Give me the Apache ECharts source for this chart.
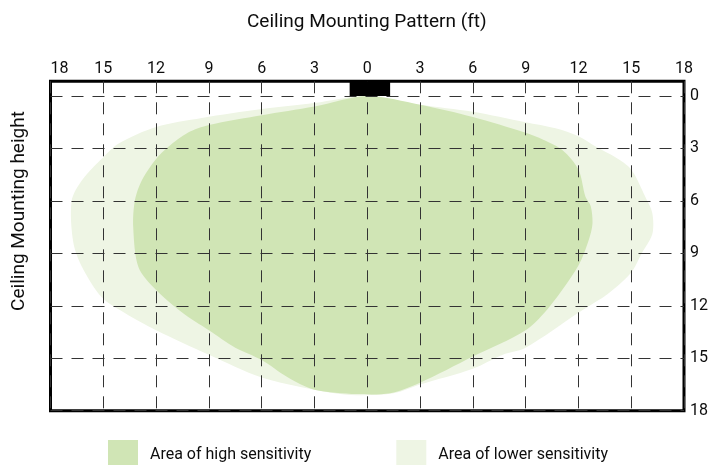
<!DOCTYPE html>
<html><head><meta charset="utf-8">
<script src="https://cdn.jsdelivr.net/npm/echarts@6/dist/echarts.min.js"></script>
<style>html,body{margin:0;padding:0;background:#fff}#c{width:713px;height:465px}</style>
</head><body><div id="c"></div>
<script>
// ---- data ----
const xTicks = [-18, -15, -12, -9, -6, -3, 0, 3, 6, 9, 12, 15, 18];
const yTicks = [0, 3, 6, 9, 12, 15, 18];
const seriesNames = ['Area of high sensitivity', 'Area of lower sensitivity'];
const titleText = 'Ceiling Mounting Pattern (ft)';
const yTitleText = 'Ceiling Mounting height';

// outline of the area of lower sensitivity (ft across, ft down)
const lowerX = [0, 3, 6, 9, 10.7, 12, 13, 14.1, 15, 15.8, 16.2, 16.2, 15.6, 15, 13.7, 12, 9, 7.7, 6, 3, 1.5, -0.9, -3, -6, -9, -12, -13.8, -15.1, -16.2, -16.7, -16.8, -16.2, -15, -14.1, -12, -9.4, -6, -3];
const lowerY = [0, 0.5, 0.9, 1.5, 1.85, 2.3, 2.9, 3.5, 4.2, 5.76, 6.7, 7.9, 9.0, 10.1, 11.3, 12.4, 14.4, 14.8, 15.6, 16.5, 17.0, 17.1, 16.8, 16.1, 14.8, 13.4, 12.4, 11.5, 9.8, 8.4, 6.0, 4.8, 3.5, 2.7, 1.77, 1.26, 0.75, 0.4];

// outline of the area of high sensitivity
const highX = [0, 3, 6, 9, 10, 11.1, 12, 12.4, 12.7, 12.8, 12.6, 12, 10.4, 9, 6, 3, 1.3, -0.6, -3, -4.5, -6, -7.5, -9, -10.5, -12, -13, -13.3, -13.2, -12.8, -12, -11.3, -10.2, -9, -6, -3];
const highY = [0, 0.5, 1.2, 2.1, 2.5, 3.1, 4.2, 5.76, 6.3, 7.3, 8.2, 9.7, 12.0, 13.4, 14.9, 16.4, 17.0, 17.05, 16.8, 16.1, 15.1, 14.4, 13.4, 12.4, 11.1, 9.8, 7.5, 5.95, 4.8, 3.6, 2.9, 2.1, 1.66, 1.1, 0.6];

// sensor block at the ceiling
const sensorX = [-1.0, 1.3];
const sensorY = [-0.84, 0];

const yMin = -0.84, yMax = 18, xMin = -18, xMax = 18;

const colHigh = '#d0e5b5';
const colLow = '#eef5e4';
const font = 'Roboto';
const txt = '#0d0d0d';

function polyRender(xs, ys, color) {
  return function (params, api) {
    if (params.dataIndex !== 0) return null;
    const pts = xs.map((x, i) => api.coord([x, ys[i]]));
    return { type: 'polygon', shape: { points: pts, smooth: 0.3 }, style: { fill: color } };
  };
}

const chart = echarts.init(document.getElementById('c'), null, { renderer: 'canvas' });
chart.setOption({
  animation: false,
  backgroundColor: '#fff',
  title: {
    text: titleText, left: 242, top: 8,
    textStyle: { fontFamily: font, fontSize: 19, fontWeight: 'normal', color: txt }
  },
  graphic: [{
    type: 'text', x: 19, y: 211, rotation: Math.PI / 2,
    style: { text: yTitleText, fontFamily: font, fontSize: 19, fill: txt, align: 'center', verticalAlign: 'middle' }
  }],
  legend: {
    left: 103, top: 435, itemWidth: 30, itemHeight: 30, itemGap: 85, icon: 'rect',
    selectedMode: false, data: seriesNames,
    textStyle: { fontFamily: font, fontSize: 16, color: txt, padding: [0, 0, 0, 7] }
  },
  grid: {
    left: 50.5, right: 29, top: 81.3, bottom: 54.3,
    show: true, borderColor: '#000', borderWidth: 3, backgroundColor: 'transparent'
  },
  xAxis: {
    type: 'value', position: 'top', min: xMin, max: xMax, z: 3,
    axisLine: { show: false },
    axisTick: { show: false, customValues: xTicks },
    axisLabel: { customValues: xTicks, formatter: v => String(Math.abs(v)), fontFamily: font, fontSize: 16, color: txt, margin: 4, alignMinLabel: 'left' },
    splitLine: { show: true, lineStyle: { color: '#333', width: 1, type: [12, 9] } }
  },
  yAxis: {
    type: 'value', position: 'right', inverse: true, min: yMin, max: yMax, z: 3,
    axisLine: { show: false },
    axisTick: { show: false, customValues: yTicks },
    axisLabel: { customValues: yTicks, fontFamily: font, fontSize: 16, color: txt, margin: 6 },
    splitLine: { show: true, lineStyle: { color: '#333', width: 1, type: [12, 9] } }
  },
  series: [
    {
      name: seriesNames[1], type: 'custom', z: 1, silent: true,
      itemStyle: { color: colLow },
      renderItem: polyRender(lowerX, lowerY, colLow),
      data: lowerX.map((x, i) => [x, lowerY[i]])
    },
    {
      name: seriesNames[0], type: 'custom', z: 1, silent: true,
      itemStyle: { color: colHigh },
      renderItem: polyRender(highX, highY, colHigh),
      data: highX.map((x, i) => [x, highY[i]])
    },
    {
      name: 'sensor', type: 'custom', z: 4, silent: true,
      renderItem: function (params, api) {
        const a = api.coord([api.value(0), api.value(1)]);
        const b = api.coord([api.value(2), api.value(3)]);
        return { type: 'rect', shape: { x: Math.min(a[0], b[0]), y: Math.min(a[1], b[1]), width: Math.abs(b[0] - a[0]), height: Math.abs(b[1] - a[1]) }, style: { fill: '#000' } };
      },
      data: [[sensorX[0], sensorY[0], sensorX[1], sensorY[1]]]
    }
  ]
});
</script>
</body></html>
